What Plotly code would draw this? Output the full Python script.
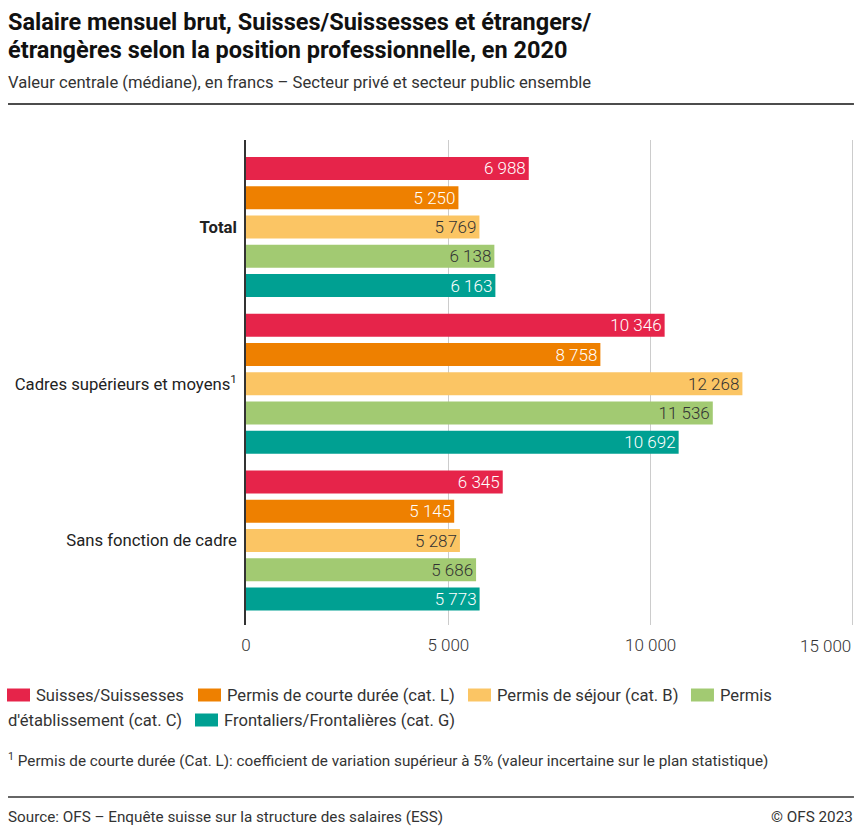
import plotly.graph_objects as go

categories = ["<b>Total</b>", "Cadres supérieurs et moyens<sup>1</sup>", "Sans fonction de cadre"]
series_names = [
    "Suisses/Suissesses",
    "Permis de courte durée (cat. L)",
    "Permis de séjour (cat. B)",
    "Permis d'établissement (cat. C)",
    "Frontaliers/Frontalières (cat. G)",
]
suisses = [6988, 10346, 6345]
permis_l = [5250, 8758, 5145]
permis_b = [5769, 12268, 5287]
permis_c = [6138, 11536, 5686]
frontaliers = [6163, 10692, 5773]
series_values = [suisses, permis_l, permis_b, permis_c, frontaliers]
x_ticks = [0, 5000, 10000, 15000]

colors = ["#e6244a", "#ee8000", "#fbc564", "#a2ca72", "#00a092"]
text_colors = ["#ffffff", "#ffffff", "#333333", "#333333", "#ffffff"]

W, H = 862, 834
XMAX = 15100
L, T, B = 246, 140, 625
R = L + (853 - L) * XMAX / 15000.0


def px(x):
    return (x - L) / (R - L)


def py(y):
    return (B - y) / (B - T)


def fmt(v):
    return "{:,}".format(v).replace(",", " ")


tick_text = [fmt(v) for v in x_ticks]
last_tick_label = tick_text[-1]
tick_text[-1] = ""  # drawn right-aligned below, as in the reference

fig = go.Figure()
for name, vals, c, tc in zip(series_names, series_values, colors, text_colors):
    fig.add_trace(go.Bar(
        y=categories, x=vals, name=name, orientation="h",
        marker=dict(color=c, line=dict(width=0)),
        texttemplate="%{x:,}", textposition="inside", insidetextanchor="end",
        constraintext="none",
        textfont=dict(color=tc, size=17, family="Roboto", weight=300),
        showlegend=False, hoverinfo="x+name",
    ))

fig.update_layout(
    width=W, height=H,
    margin=dict(l=L, r=W - R, t=T, b=H - B, pad=0, autoexpand=False),
    paper_bgcolor="white", plot_bgcolor="white",
    barmode="group", bargap=0.067, bargroupgap=0.21,
    separators=", ",
    font=dict(family="Roboto", size=16, color="#333333"),
)
fig.update_xaxes(
    range=[0, XMAX], tickvals=x_ticks, ticktext=tick_text, automargin=False,
    showgrid=True, gridcolor="#cccccc", gridwidth=1, zeroline=False,
    showline=False, ticks="outside", ticklen=5, tickcolor="rgba(0,0,0,0)",
    tickfont=dict(size=17, color="#333333", weight=300),
)
fig.update_yaxes(
    type="category", range=[2.539, -0.555], automargin=False,
    showline=True, linecolor="#333333", linewidth=1.5,
    showgrid=False, ticks="outside", ticklen=4, tickcolor="rgba(0,0,0,0)",
    tickfont=dict(size=16.7, color="#222222"),
)

ann = []
shapes = []

ann.append(dict(text=last_tick_label, x=x_ticks[-1], xref="x", y=py(646), yref="paper",
                xanchor="right", yanchor="middle", showarrow=False,
                font=dict(size=17, color="#333333", family="Roboto", weight=300)))


def text(x, y, s, size=15, color="#333333", xanchor="left", bold=False):
    ann.append(dict(
        text=("<b>%s</b>" % s) if bold else s, x=px(x), y=py(y), xref="paper", yref="paper",
        xanchor=xanchor, yanchor="middle", showarrow=False,
        font=dict(size=size, color=color, family="Roboto"),
    ))


text(6, 22, "Salaire mensuel brut, Suisses/Suissesses et étrangers/", size=23.5, color="#111111", bold=True)
text(6, 50, "étrangères selon la position professionnelle, en 2020", size=23.5, color="#111111", bold=True)
text(6, 82, "Valeur centrale (médiane), en francs – Secteur privé et secteur public ensemble", size=16.6)
shapes.append(dict(type="line", xref="paper", yref="paper", x0=px(8), x1=px(854), y0=py(104), y1=py(104),
                   line=dict(color="#111111", width=1.5)))

# legend (manual, wrapped as in the reference)
legend_items = [
    (7, 695, 0, series_names[0]),
    (198, 695, 1, series_names[1]),
    (468, 695, 2, series_names[2]),
    (691, 695, 3, "Permis"),
    (195, 720, 4, series_names[4]),
]
for x0, yc, idx, label in legend_items:
    shapes.append(dict(type="rect", xref="paper", yref="paper",
                       x0=px(x0), x1=px(x0 + 23), y0=py(yc - 6.5), y1=py(yc + 6.5),
                       fillcolor=colors[idx], line=dict(width=0)))
    text(x0 + 27, yc, label, size=16.6)
text(6, 720, "d'établissement (cat. C)", size=16.6)

text(6, 760, "<sup>1</sup> Permis de courte durée (Cat. L): coefficient de variation supérieur à 5% (valeur incertaine sur le plan statistique)", size=15.25)

shapes.append(dict(type="line", xref="paper", yref="paper", x0=px(8), x1=px(854), y0=py(797), y1=py(797),
                   line=dict(color="#333333", width=1.5)))
text(6, 817, "Source: OFS – Enquête suisse sur la structure des salaires (ESS)", size=15.25)
text(855, 817, "© OFS 2023", size=15.25, xanchor="right")

fig.update_layout(annotations=ann, shapes=shapes)
fig.write_html("out.html")
